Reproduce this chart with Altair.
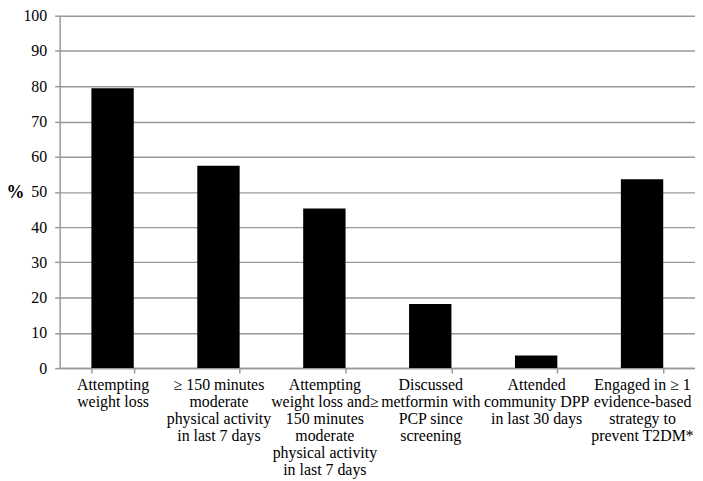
import altair as alt
import pandas as pd

labels = [
    "Attempting|weight loss",
    "≥ 150 minutes|moderate|physical activity|in last 7 days",
    "Attempting|weight loss and≥|150 minutes|moderate|physical activity|in last 7 days",
    "Discussed|metformin with|PCP since|screening",
    "Attended|community DPP|in last 30 days",
    "Engaged in ≥ 1|evidence-based|strategy to|prevent T2DM*",
]
values = [79.4, 57.4, 45.3, 18.2, 3.6, 53.6]
y_ticks = list(range(0, 101, 10))

df = pd.DataFrame({"cat": labels, "pct": values})

chart = alt.Chart(df).mark_bar(color="black").encode(
    x=alt.X("cat:N", sort=labels,
            scale=alt.Scale(paddingInner=0.6, paddingOuter=0.3),
            axis=alt.Axis(title=None, labelAngle=0,
                          labelExpr="split(datum.label, '|')",
                          labelFont="Liberation Serif", labelFontSize=16,
                          labelColor="black", labelLineHeight=17,
                          labelPadding=4, labelBaseline="top",
                          tickBand="extent", tickSize=5, tickColor="#999",
                          domainColor="#999", domainWidth=1.5, tickWidth=1.5,
                          grid=False)),
    y=alt.Y("pct:Q", scale=alt.Scale(domain=[0, 100], nice=False),
            axis=alt.Axis(values=y_ticks, title="%", titleAngle=0,
                          titleFont="Liberation Serif", titleFontSize=18,
                          titleFontWeight="bold", titleColor="black",
                          titleX=-45, titleY=178, titleAlign="center",
                          titleBaseline="middle",
                          labelFont="Liberation Serif", labelFontSize=16,
                          labelColor="black", labelPadding=8,
                          tickSize=5, tickColor="#999", tickWidth=1.5,
                          domainColor="#999", domainWidth=1.5,
                          grid=True, gridColor="#999", gridWidth=1.5)),
).properties(
    width=640, height=355,
    autosize=alt.AutoSizeParams(type="none"),
    padding={"left": 52, "top": 6, "right": 0, "bottom": 112},
).configure_view(stroke=None)

chart.save("out.html", embed_options={"renderer": "svg", "actions": False})
